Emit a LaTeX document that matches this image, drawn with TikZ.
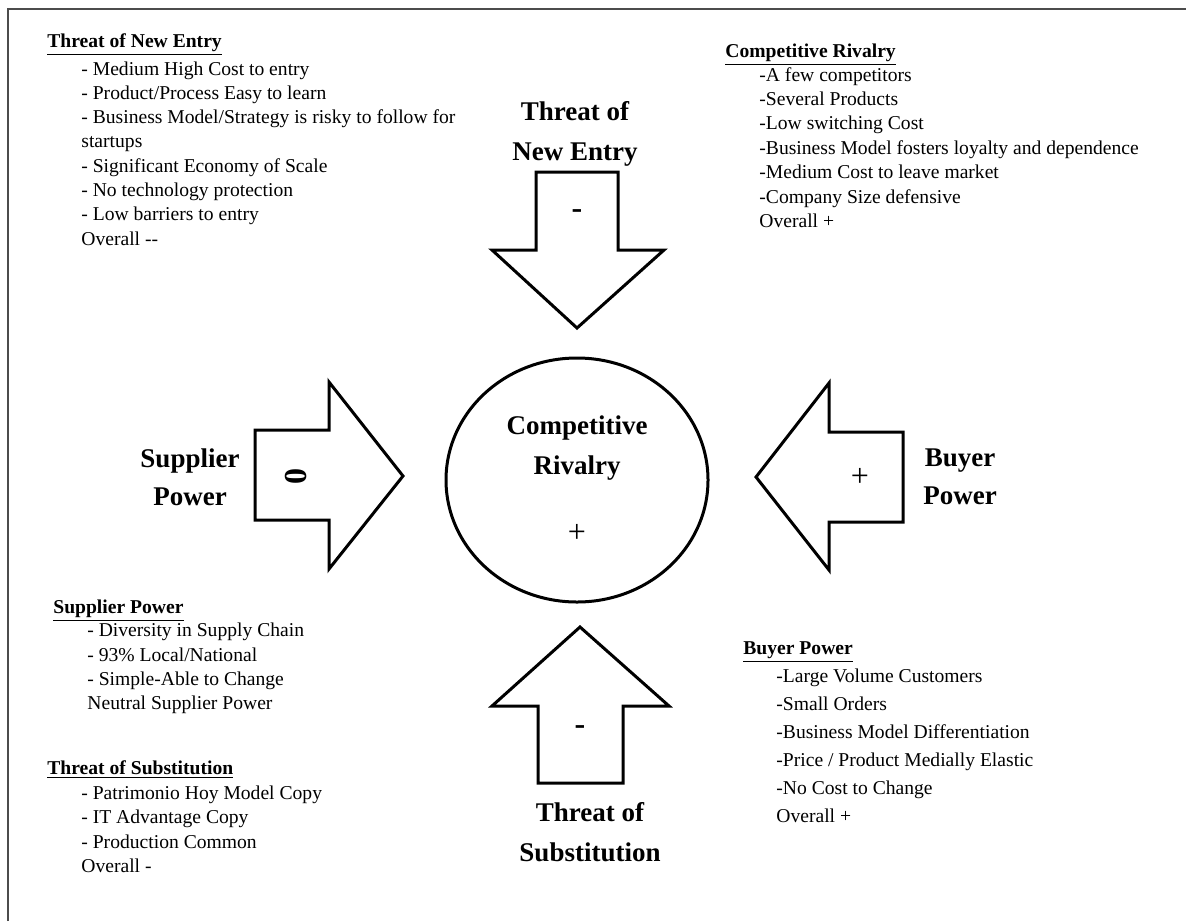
\documentclass[tikz,border=0pt]{standalone}
\usepackage{fontspec}
\setmainfont{Liberation Serif}
\usetikzlibrary{calc}

\tikzset{
	item/.style={anchor=base west, inner sep=0pt, font=\fontsize{9.8}{12}\selectfont},
	heading/.style={anchor=base west, inner sep=0pt, font=\fontsize{9.8}{12}\selectfont\bfseries},
	force/.style={align=center, inner sep=0pt, font=\fontsize{13.5}{20}\selectfont\bfseries},
	sign/.style={inner sep=0pt, font=\fontsize{16}{16}\selectfont},
	block/.style={draw=black, line width=1.5pt, line join=miter}
}

\begin{document}
\begin{tikzpicture}[x=0.5pt, y=-0.5pt]
	\useasboundingbox (0,0) rectangle (1186,921);
	\draw[black!70, line width=1pt] (8,921) -- (8,9) -- (1186,9);

	% centre and the four arrows
	\draw[block] (577,480) ellipse [x radius=131, y radius=122];
	\draw[block] (536,172) -- (618,172) -- (618,250) -- (664,250) -- (577,328) -- (492,250) -- (536,250) -- cycle;
	\draw[block] (538,783) -- (623,783) -- (623,706) -- (669,706) -- (580,627) -- (492,706) -- (538,706) -- cycle;
	\draw[block] (255,430) -- (329,430) -- (329,382) -- (403,476) -- (329,569) -- (329,520) -- (255,520) -- cycle;
	\draw[block] (903,432) -- (829,432) -- (829,383) -- (756,477) -- (829,570) -- (829,522) -- (903,522) -- cycle;

	\node[force] (rivalry) at (577,448.5) {Competitive\\Rivalry};
	\node[sign] (rivalrysign) at (577,533) {+};
	\node[force] (entrylbl) at (575,134.4) {Threat of\\New Entry};
	\node[sign, font=\fontsize{16}{16}\selectfont\bfseries] (entrysign) at (577,214) {-};
	\node[force, font=\fontsize{13.5}{18.7}\selectfont\bfseries] (supplierlbl) at (190,477.4) {Supplier\\Power};
	\node[sign, font=\fontsize{16}{16}\selectfont\bfseries, rotate=90] (suppliersign) at (296,476) {0};
	\node[force, font=\fontsize{13.5}{19.2}\selectfont\bfseries] (buyerlbl) at (960,477) {Buyer\\Power};
	\node[sign] (buyersign) at (860,477) {+};
	\node[force] (substlbl) at (590,832) {Threat of\\Substitution};
	\node[sign, font=\fontsize{16}{16}\selectfont\bfseries] (substsign) at (580,730) {-};

	% notes
	\node[heading] (entryhead) at (47,47.7) {\underline{Threat of New Entry}};
	\foreach \i/\itext in {1/{- Medium High Cost to entry}, 2/{- Product/Process Easy to learn},
		3/{- Business Model/Strategy is risky to follow for}, 4/{startups}, 5/{- Significant Economy of Scale},
		6/{- No technology protection}, 7/{- Low barriers to entry}, 8/{Overall -{}-}}
		\node[item] (entry\i) at (81,{75+24.3*(\i-1)}) {\itext};

	\node[heading] (rivalryhead) at (725,57.7) {\underline{Competitive Rivalry}};
	\foreach \i/\itext in {1/{-A few competitors}, 2/{-Several Products}, 3/{-Low switching Cost},
		4/{-Business Model fosters loyalty and dependence}, 5/{-Medium Cost to leave market},
		6/{-Company Size defensive}, 7/{Overall +}}
		\node[item] (rivalry\i) at (759,{81+24.4*(\i-1)}) {\itext};

	\node[heading] (supplierhead) at (53,613) {\underline{Supplier Power}};
	\foreach \i/\itext in {1/{- Diversity in Supply Chain}, 2/{- 93\% Local/National},
		3/{- Simple-Able to Change}, 4/{Neutral Supplier Power}}
		\node[item] (supplier\i) at (87,{636.7+24.3*(\i-1)}) {\itext};

	\node[heading] (substhead) at (47,774.3) {\underline{Threat of Substitution}};
	\foreach \i/\itext in {1/{- Patrimonio Hoy Model Copy}, 2/{- IT Advantage Copy},
		3/{- Production Common}, 4/{Overall -}}
		\node[item] (subst\i) at (81,{799.3+24.5*(\i-1)}) {\itext};

	\node[heading] (buyerhead) at (743,654.3) {\underline{Buyer Power}};
	\foreach \i/\itext in {1/{-Large Volume Customers}, 2/{-Small Orders}, 3/{-Business Model Differentiation},
		4/{-Price / Product Medially Elastic}, 5/{-No Cost to Change}, 6/{Overall +}}
		\node[item] (buyer\i) at (776,{682+28*(\i-1)}) {\itext};
\end{tikzpicture}
\end{document}
